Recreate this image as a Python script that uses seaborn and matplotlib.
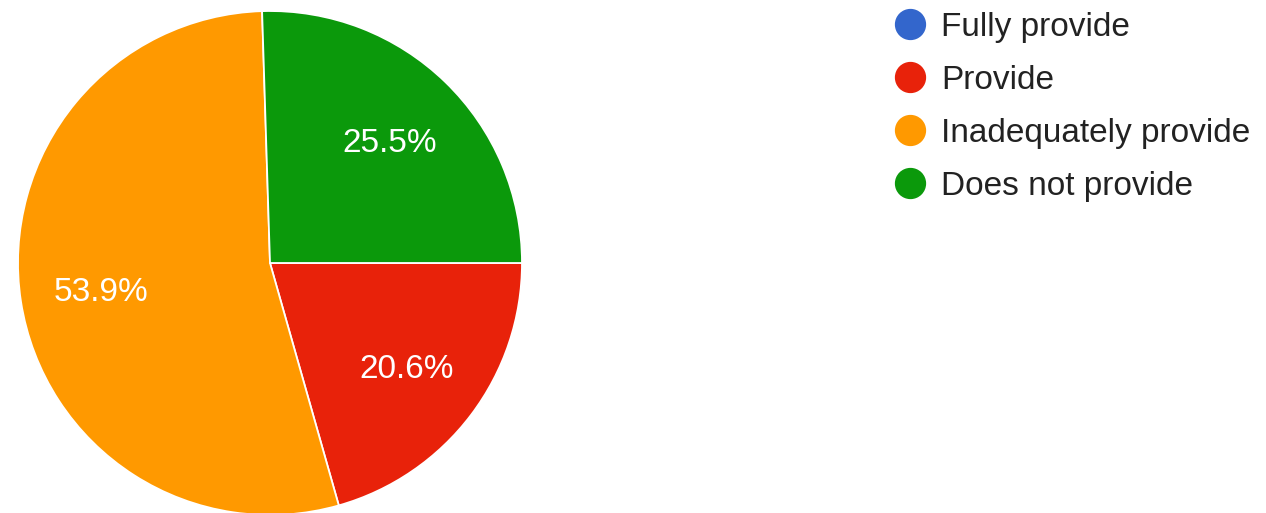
import matplotlib
matplotlib.use("Agg")
import matplotlib.pyplot as plt
from matplotlib.lines import Line2D
import seaborn as sns

categories = ["Fully provide", "Provide", "Inadequately provide", "Does not provide"]
shares = [0.0, 20.6, 53.9, 25.5]
colors = ["#3366CC", "#E8220A", "#FF9900", "#0B990B"]

sns.set_theme(style="white")
plt.rcParams["font.family"] = ["Liberation Sans", "DejaVu Sans"]
palette = sns.color_palette(colors)

W, H, DPI = 1266, 513, 100
fig = plt.figure(figsize=(W / DPI, H / DPI), dpi=DPI)
fig.patch.set_facecolor("white")

# pie area: centre (270, 250) px from bottom-left, radius 252 px
cx, cy, r = 270, 250, 252
ax = fig.add_axes([(cx - r) / W, (cy - r) / H, 2 * r / W, 2 * r / H])


def pct_label(p):
    return f"{p:.1f}%" if p > 0.5 else ""


wedges, _, autotexts = ax.pie(
    shares,
    colors=palette,
    startangle=0,
    counterclock=False,
    autopct=pct_label,
    pctdistance=0.68,
    wedgeprops=dict(edgecolor="white", linewidth=1.3),
    textprops=dict(color="white", fontsize=24, va="center_baseline"),
)
ax.set_xlim(-1, 1)
ax.set_ylim(-1, 1)
ax.set_aspect("equal")
ax.axis("off")

handles = [
    Line2D([], [], linestyle="none", marker="o", markersize=21.5,
           markerfacecolor=c, markeredgecolor=c)
    for c in palette
]
fig.legend(
    handles, categories,
    loc="upper left",
    bbox_to_anchor=(893 / W, 1 - 12 / H),
    frameon=False,
    fontsize=24,
    labelcolor="#222222",
    handlelength=1.0,
    handletextpad=0.45,
    labelspacing=0.66,
    borderaxespad=0,
    borderpad=0,
)

fig.savefig("out.png", dpi=DPI, facecolor="white")
